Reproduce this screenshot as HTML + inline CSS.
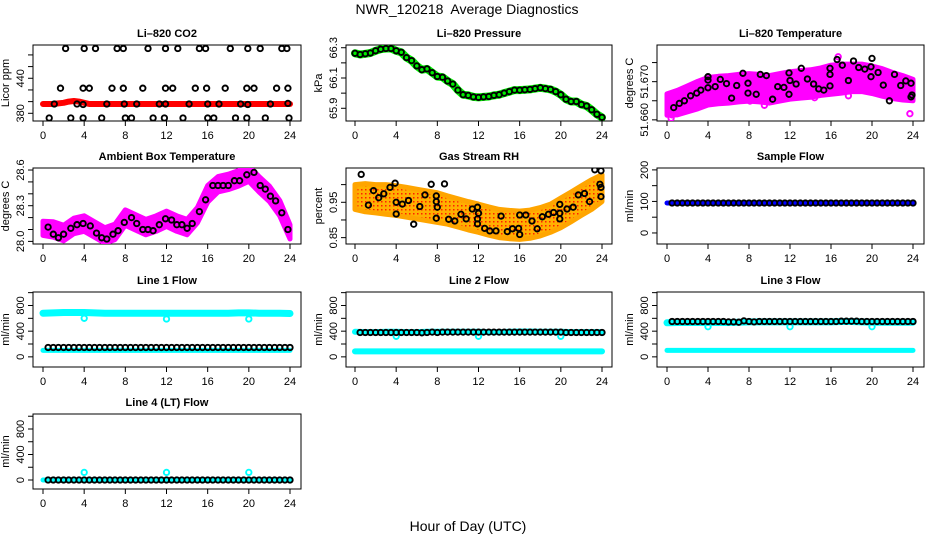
<!DOCTYPE html>
<html><head><meta charset="utf-8"><style>
html,body{margin:0;padding:0;background:#fff;}
svg{display:block;font-family:"Liberation Sans",Arial,sans-serif;}
</style></head><body>
<svg id="chart" width="936" height="540" viewBox="0 0 936 540" xmlns="http://www.w3.org/2000/svg">
<text x="467" y="14" font-size="14" text-anchor="middle" style="white-space:pre" xml:space="preserve">NWR_120218  Average Diagnostics</text>
<text x="468" y="531" font-size="14" text-anchor="middle">Hour of Day (UTC)</text>
</svg>
<script>
// ---------- data ----------
const hourTicks = [0,4,8,12,16,20,24];
const halfHours = [0,0.5,1,1.5,2,2.5,3,3.5,4,4.5,5,5.5,6,6.5,7,7.5,8,8.5,9,9.5,10,10.5,11,11.5,12,12.5,13,13.5,14,14.5,15,15.5,16,16.5,17,17.5,18,18.5,19,19.5,20,20.5,21,21.5,22,22.5,23,23.5,24];
const hours = [0,1,2,3,4,5,6,7,8,9,10,11,12,13,14,15,16,17,18,19,20,21,22,23,24];

// CO2
const co2Dense = [396,396,396,397,398,400,401,400,398,396,396,396,396,396,396,396,396,396,396,396,396,396,396,396,396,396,396,396,396,396,396,396,396,396,396,396,396,396,396,396,396,396,396,396,396,396,396,396,396];
const co2TopHours = [2.2,4.0,5.1,7.2,7.8,10.2,11.9,13.1,15.2,15.8,18.2,19.9,21.1,23.2,23.7];
const co2TopVals = [491,491,491,491,491,491,491,491,491,491,491,491,491,491,491];
const co2MidHours = [1.7,3.9,4.5,6.7,7.8,9.7,11.9,12.6,14.8,15.9,17.7,19.8,20.5,22.7,23.8];
const co2MidVals = [423,423,423,423,423,423,423,423,423,423,423,423,423,423,423];
const co2AmbHours = [1.1,3.3,3.9,6.2,7.9,9.1,11.3,11.9,14.2,16.0,17.1,19.2,19.9,22.1,23.8];
const co2AmbVals = [396,396,395,396,396,396,396,396,396,396,396,396,395,396,397];
const co2LowHours = [0.6,2.7,3.9,5.7,8.0,8.6,10.7,11.8,13.6,16.0,16.6,18.7,19.8,21.6,23.9];
const co2LowVals = [372,372,372,372,372,372,372,372,372,372,372,372,372,372,372];

// Pressure
const pressVals = [66.263,66.255,66.26,66.265,66.28,66.29,66.295,66.295,66.28,66.27,66.235,66.215,66.18,66.155,66.16,66.135,66.11,66.105,66.08,66.06,66.02,65.99,65.985,65.975,65.972,65.975,65.978,65.985,65.99,66.0,66.01,66.02,66.02,66.022,66.025,66.03,66.035,66.03,66.025,66.01,65.99,65.96,65.945,65.945,65.925,65.915,65.89,65.86,65.84];

// Li-820 temperature
const ltCenter = [51.6640,51.6645,51.6655,51.6665,51.6675,51.6678,51.6680,51.6683,51.6685,51.6683,51.6680,51.6685,51.6690,51.6693,51.6695,51.6700,51.6705,51.6708,51.6710,51.6710,51.6705,51.6698,51.6690,51.6684,51.6678];
const ltSpread = [0.0028,0.0032,0.0034,0.0036,0.0036,0.0036,0.0036,0.0036,0.0036,0.0036,0.0036,0.0036,0.0036,0.0036,0.0036,0.0036,0.0038,0.0038,0.0036,0.0036,0.0036,0.0036,0.0034,0.0032,0.0028];
const ltOutHours = [0.4,0.5,2.2,3.2,5.8,6.3,7.7,8.1,9.5,10.3,11.2,12.7,14.4,15.4,16.7,17.7,18.9,19.3,20.4,21.9,22.6,23.7];
const ltOutVals = [51.6604,51.6613,51.6677,51.6637,51.6707,51.6710,51.6716,51.6649,51.6638,51.6658,51.6656,51.6662,51.6658,51.6732,51.6765,51.6663,51.6739,51.6691,51.6702,51.6718,51.6711,51.6616];
const ltBlackHours = [0.65,1.2,1.7,2.3,2.9,3.3,4.0,4.0,4.0,4.7,5.2,5.8,6.3,6.8,7.4,7.9,7.9,8.7,9.1,9.7,10.3,10.8,11.4,11.9,11.9,12.0,12.6,13.1,13.7,14.3,14.8,15.3,15.9,15.9,15.9,16.6,17.1,17.7,18.2,18.7,19.3,19.9,19.9,20.0,20.6,21.1,21.7,22.2,22.8,23.3,23.8,23.9,23.8];
const ltBlackVals = [51.6632,51.6643,51.665,51.6663,51.667,51.6678,51.6713,51.6704,51.6684,51.6687,51.6706,51.6695,51.6657,51.669,51.6722,51.6696,51.667,51.6667,51.6719,51.6716,51.6654,51.6687,51.6685,51.6723,51.6667,51.6703,51.6694,51.6735,51.6707,51.6694,51.6681,51.6678,51.6719,51.6735,51.6689,51.6758,51.6743,51.6703,51.6754,51.6737,51.6733,51.6739,51.6713,51.6761,51.6724,51.6691,51.665,51.6719,51.669,51.6702,51.6696,51.6665,51.666];

// Ambient box temperature
const ambCenter = [28.11,28.10,28.07,28.13,28.15,28.10,28.05,28.08,28.20,28.16,28.12,28.15,28.19,28.15,28.12,28.22,28.40,28.48,28.50,28.53,28.57,28.48,28.40,28.28,28.08];
const ambSpread = [0.06,0.065,0.065,0.065,0.065,0.065,0.065,0.065,0.065,0.065,0.065,0.065,0.065,0.065,0.065,0.065,0.07,0.065,0.065,0.065,0.065,0.065,0.065,0.065,0.06];
const ambBlackHours = [0.5,1,1.5,2,2.7,3.3,3.9,4.6,5.2,5.7,6.2,6.8,7.3,7.9,8.6,9.1,9.7,10.2,10.7,11.3,11.9,12.5,13,13.5,14,14.5,15.2,15.8,16.5,17,17.5,18,18.6,19.1,19.8,20.5,21.1,21.6,22.1,22.6,23.2,23.8];
const ambBlackVals = [28.12,28.06,28.03,28.06,28.11,28.14,28.15,28.13,28.07,28.03,28.02,28.06,28.09,28.16,28.20,28.15,28.10,28.10,28.09,28.14,28.19,28.18,28.14,28.14,28.11,28.15,28.25,28.35,28.47,28.47,28.47,28.47,28.51,28.51,28.56,28.58,28.47,28.44,28.38,28.34,28.24,28.10];

// Gas stream RH
const rhCenter = [0.965,0.963,0.96,0.958,0.955,0.95,0.945,0.94,0.935,0.928,0.92,0.912,0.905,0.897,0.89,0.887,0.885,0.888,0.895,0.905,0.92,0.937,0.955,0.972,0.99];
const rhSpread = [0.035,0.04,0.04,0.042,0.042,0.042,0.042,0.042,0.042,0.04,0.04,0.04,0.04,0.04,0.04,0.04,0.04,0.04,0.04,0.04,0.042,0.042,0.042,0.042,0.038];
const rhBlackHours = [0.6,1.3,1.8,2.3,2.8,3.4,3.9,4.0,4.0,4.6,5.2,5.7,6.3,6.8,7.4,7.9,7.9,8.0,7.9,8.7,9.1,9.7,10.3,10.8,11.4,11.9,12.0,11.9,11.9,12.6,13.1,13.7,14.2,14.8,15.3,15.9,16.0,16.0,16.6,17.2,17.7,18.2,18.8,19.3,19.9,19.9,19.9,20.6,21.2,21.7,22.3,22.8,23.3,23.9,23.8,23.9,23.9];
const rhBlackVals = [1.029,0.942,0.983,0.963,0.974,0.992,1.004,0.95,0.917,0.945,0.955,0.888,0.938,0.971,1.001,0.968,0.952,0.936,0.905,1.002,0.902,0.897,0.916,0.903,0.931,0.936,0.919,0.903,0.889,0.876,0.869,0.869,0.911,0.867,0.875,0.876,0.914,0.859,0.914,0.897,0.875,0.909,0.916,0.921,0.944,0.919,0.903,0.931,0.936,0.971,0.975,0.952,1.042,1.039,1.001,0.992,0.966];

// Flows
const sampleFlowDense = [95,95,95,95,95,95,95,95,95,95,95,95,95,95,95,95,95,95,95,95,95,95,95,95,95];
const sampleFlowBlack = [95,95,95,95,95,95,95,95,95,95,95,95,95,95,95,95,95,95,95,95,95,95,95,95,95,95,95,95,95,95,95,95,95,95,95,95,95,95,95,95,95,95,95,95,95,95,95,95];
const line1High = [680,685,690,690,690,685,680,680,680,680,680,680,680,680,680,680,680,680,680,685,685,680,680,680,675];
const line1Low = [100,100,100,100,100,100,100,100,100,100,100,100,100,100,100,100,100,100,100,100,100,100,100,100,100];
const line1Black = [145,145,145,145,145,145,145,145,145,145,145,145,145,145,145,145,145,145,145,145,145,145,145,145,145,145,145,145,145,145,145,145,145,145,145,145,145,145,145,145,145,145,145,145,145,145,145,145];
const line1DipHours = [4,12,20];
const line1DipVals = [600,590,590];
const line2High = [390,385,385,390,390,385,385,390,390,390,390,390,390,385,385,390,395,395,390,390,390,385,385,385,385];
const line2Low = [85,85,85,85,85,85,85,85,85,85,85,85,85,85,85,85,85,85,85,85,85,85,85,85,85];
const line2Black = [380,380,380,380,380,380,380,380,380,380,380,380,375,380,385,380,385,385,385,385,385,385,385,385,385,385,385,385,385,385,385,385,385,385,385,385,385,385,385,385,380,380,380,380,380,380,380,380];
const line2DipHours = [4,12,20];
const line2DipVals = [320,320,320];
const line3High = [530,535,535,535,535,535,535,540,545,545,545,545,545,545,545,545,545,550,550,545,540,540,540,540,540];
const line3Low = [100,100,100,100,100,100,100,100,100,100,100,100,100,100,100,100,100,100,100,100,100,100,100,100,100];
const line3Black = [550,550,550,550,550,550,550,550,550,550,550,545,545,540,560,550,545,550,550,550,550,550,550,550,550,550,550,550,550,550,550,550,550,555,555,555,555,550,550,550,550,550,550,550,550,550,550,550];
const line3DipHours = [4,12,20];
const line3DipVals = [470,470,470];
const line4Cyan = [0,0,0,0,0,0,0,0,0,0,0,0,0,0,0,0,0,0,0,0,0,0,0,0,0];
const line4Black = [0,0,0,0,0,0,0,0,0,0,0,0,0,0,0,0,0,0,0,0,0,0,0,0,0,0,0,0,0,0,0,0,0,0,0,0,0,0,0,0,0,0,0,0,0,0,0,0];
const line4SpikeHours = [4,12,20];
const line4SpikeVals = [120,120,120];

// ---------- drawing ----------
const svg = document.getElementById('chart');
const NS = 'http://www.w3.org/2000/svg';
function mk(tag, attrs, parent){
  const e = document.createElementNS(NS, tag);
  for (const k in attrs) e.setAttribute(k, attrs[k]);
  (parent||svg).appendChild(e);
  return e;
}
const cols = [{l:33,r:301,p0:43,p24:290},{l:346,r:612,p0:355,p24:602},{l:657,r:924,p0:667,p24:913}];
const rows = [{t:45,b:121},{t:168,b:244},{t:292,b:367},{t:414,b:489}];

function panel(o){
  const c = cols[o.col], rw = rows[o.row];
  const g = mk('g', {});
  
  
  const sx = h => c.p0 + h*(c.p24-c.p0)/24;
  const sy = v => rw.b - (v-o.vmin)/(o.vmax-o.vmin)*(rw.b-rw.t);
  const t = mk('text', {x:(c.l+c.r)/2, y:rw.t-8, 'font-size':11, 'font-weight':'bold', 'text-anchor':'middle'}, g);
  t.textContent = o.title;
  
  
  const box = mk('rect', {x:c.l, y:rw.t, width:c.r-c.l, height:rw.b-rw.t, fill:'none', stroke:'#000', 'stroke-width':1}, g);
  
  
  const xa = mk('g', {}, g);
  
  
  mk('line', {x1:sx(0), x2:sx(24), y1:rw.b, y2:rw.b, stroke:'#000'}, xa);
  hourTicks.forEach(h => {
    mk('line', {x1:sx(h), x2:sx(h), y1:rw.b, y2:rw.b+5, stroke:'#000'}, xa);
    const tl = mk('text', {x:sx(h), y:rw.b+18, 'font-size':11, 'text-anchor':'middle'}, xa);
    tl.textContent = h;
    
    
  });
  const ya = mk('g', {}, g);
  
  
  mk('line', {x1:c.l, x2:c.l, y1:sy(o.ticks[0]), y2:sy(o.ticks[o.ticks.length-1]), stroke:'#000'}, ya);
  o.ticks.forEach((v,i) => {
    mk('line', {x1:c.l-5, x2:c.l, y1:sy(v), y2:sy(v), stroke:'#000'}, ya);
    if (o.labels[i]) {
      const tl = mk('text', {x:c.l-9, y:sy(v), 'font-size':11, 'text-anchor':'middle', transform:`rotate(-90 ${c.l-9} ${sy(v)})`}, ya);
      tl.textContent = o.labels[i];
      
      
    }
  });
  const yt = mk('text', {x:c.l-24, y:(rw.t+rw.b)/2, 'font-size':11, 'text-anchor':'middle', transform:`rotate(-90 ${c.l-24} ${(rw.t+rw.b)/2})`}, g);
  yt.textContent = o.ylab;
  
  
  const clip = 'clip' + o.name;
  const cp = mk('clipPath', {id:clip}, g);
  mk('rect', {x:c.l, y:rw.t, width:c.r-c.l, height:rw.b-rw.t}, cp);
  const marks = mk('g', {'clip-path':`url(#${clip})`}, g);
  
  
  return {sx, sy, g:marks};
}
function thickLine(p, xs, ys, color, w, name){
  const d = xs.map((h,i)=>(i?'L':'M')+p.sx(h).toFixed(1)+','+p.sy(ys[i]).toFixed(1)).join('');
  const e = mk('path', {d, fill:'none', stroke:color, 'stroke-width':w, 'stroke-linejoin':'round', 'stroke-linecap':'round'}, p.g);
  
  
}
function band(p, xs, center, spread, color, name){
  const up = xs.map((h,i)=>p.sx(h).toFixed(1)+','+p.sy(center[i]+spread[i]).toFixed(1));
  const lo = xs.map((h,i)=>p.sx(h).toFixed(1)+','+p.sy(center[i]-spread[i]).toFixed(1)).reverse();
  const e = mk('polygon', {points:up.concat(lo).join(' '), fill:color, stroke:color, 'stroke-width':5, 'stroke-linejoin':'round'}, p.g);
  
  
}
function circles(p, xs, ys, color, name, r, sw){
  xs.forEach((h,i)=>{
    const e = mk('circle', {cx:p.sx(h).toFixed(1), cy:p.sy(ys[i]).toFixed(1), r:r||2.7, fill:'none', stroke:color, 'stroke-width':sw||1.9}, p.g);
    
    
  });
}
const blackHours = halfHours.slice(1);

let p = panel({name:'panel-li820-co2', col:0, row:0, title:'Li\u2013820 CO2', ylab:'Licor ppm', vmin:366.8, vmax:497, ticks:[380,400,420,440,460,480], labels:['380','','','440','','']});
thickLine(p, halfHours, co2Dense, '#ff0000', 6, 'co2-raw-series');
circles(p, co2TopHours, co2TopVals, '#000', 'co2-high-standard-point');
circles(p, co2MidHours, co2MidVals, '#000', 'co2-mid-standard-point');
circles(p, co2AmbHours, co2AmbVals, '#000', 'co2-hourly-average-point');
circles(p, co2LowHours, co2LowVals, '#000', 'co2-low-standard-point');

p = panel({name:'panel-li820-pressure', col:1, row:0, title:'Li\u2013820 Pressure', ylab:'kPa', vmin:65.816, vmax:66.318, ticks:[65.9,66.0,66.1,66.2,66.3], labels:['65.9','','66.1','','66.3']});
thickLine(p, halfHours, pressVals, '#00ee00', 8, 'pressure-raw-series');
circles(p, halfHours, pressVals, '#000', 'pressure-average-point');

p = panel({name:'panel-li820-temperature', col:2, row:0, title:'Li\u2013820 Temperature', ylab:'degrees C', vmin:51.6597, vmax:51.6796, ticks:[51.660,51.665,51.670,51.675], labels:['51.660','','51.670','']});
band(p, hours, ltCenter, ltSpread, '#ff00ff', 'li820-temp-raw-cloud');
circles(p, ltOutHours, ltOutVals, '#ff00ff', 'li820-temp-raw-point');
circles(p, ltBlackHours, ltBlackVals, '#000', 'li820-temp-average-point');

p = panel({name:'panel-ambient-box-temperature', col:0, row:1, title:'Ambient Box Temperature', ylab:'degrees C', vmin:27.978, vmax:28.617, ticks:[28.0,28.1,28.2,28.3,28.4,28.5,28.6], labels:['28.0','','','28.3','','','28.6']});
band(p, hours, ambCenter, ambSpread, '#ff00ff', 'ambient-temp-raw-cloud');
circles(p, ambBlackHours, ambBlackVals, '#000', 'ambient-temp-average-point');

p = panel({name:'panel-gas-stream-rh', col:1, row:1, title:'Gas Stream RH', ylab:'percent', vmin:0.832, vmax:1.047, ticks:[0.85,0.90,0.95,1.00], labels:['0.85','','0.95','']});
const defs = mk('defs', {});
const pat = mk('pattern', {id:'rhdots', width:4, height:4, patternUnits:'userSpaceOnUse'}, defs);
mk('rect', {width:4, height:4, fill:'#ffb000'}, pat);
mk('rect', {x:1, y:1, width:1.5, height:1.5, fill:'#ff2000'}, pat);
band(p, hours, rhCenter, rhSpread, 'url(#rhdots)', 'rh-raw-cloud');
p.g.lastChild.setAttribute('stroke', '#ffa500');
circles(p, rhBlackHours, rhBlackVals, '#000', 'rh-average-point');

p = panel({name:'panel-sample-flow', col:2, row:1, title:'Sample Flow', ylab:'ml/min', vmin:-35, vmax:206, ticks:[0,50,100,150,200], labels:['0','','100','','200']});
thickLine(p, hours, sampleFlowDense, '#0000ff', 5, 'sample-flow-raw-series');
circles(p, blackHours, sampleFlowBlack, '#000', 'sample-flow-average-point');

const flowTicks = [0,200,400,600,800,1000];
const flowLabels = ['0','','400','','800',''];
p = panel({name:'panel-line1-flow', col:0, row:2, title:'Line 1 Flow', ylab:'ml/min', vmin:-158, vmax:1010, ticks:flowTicks, labels:flowLabels});
thickLine(p, hours, line1High, '#00ffff', 7, 'line1-high-flow-series');
thickLine(p, hours, line1Low, '#00ffff', 5, 'line1-low-flow-series');
circles(p, line1DipHours, line1DipVals, '#00ffff', 'line1-dip-point');
circles(p, blackHours, line1Black, '#000', 'line1-average-point');
p = panel({name:'panel-line2-flow', col:1, row:2, title:'Line 2 Flow', ylab:'ml/min', vmin:-158, vmax:1010, ticks:flowTicks, labels:flowLabels});
thickLine(p, hours, line2High, '#00ffff', 6, 'line2-high-flow-series');
thickLine(p, hours, line2Low, '#00ffff', 6, 'line2-low-flow-series');
circles(p, line2DipHours, line2DipVals, '#00ffff', 'line2-dip-point');
circles(p, blackHours, line2Black, '#000', 'line2-average-point');
p = panel({name:'panel-line3-flow', col:2, row:2, title:'Line 3 Flow', ylab:'ml/min', vmin:-158, vmax:1010, ticks:flowTicks, labels:flowLabels});
thickLine(p, hours, line3High, '#00ffff', 7, 'line3-high-flow-series');
thickLine(p, hours, line3Low, '#00ffff', 5, 'line3-low-flow-series');
circles(p, line3DipHours, line3DipVals, '#00ffff', 'line3-dip-point');
circles(p, blackHours, line3Black, '#000', 'line3-average-point');
p = panel({name:'panel-line4-flow', col:0, row:3, title:'Line 4 (LT) Flow', ylab:'ml/min', vmin:-141, vmax:1035, ticks:flowTicks, labels:flowLabels});
thickLine(p, hours, line4Cyan, '#00ffff', 5, 'line4-flow-series');
circles(p, line4SpikeHours, line4SpikeVals, '#00ffff', 'line4-spike-point');
circles(p, blackHours, line4Black, '#000', 'line4-average-point');
</script>
</body></html>
